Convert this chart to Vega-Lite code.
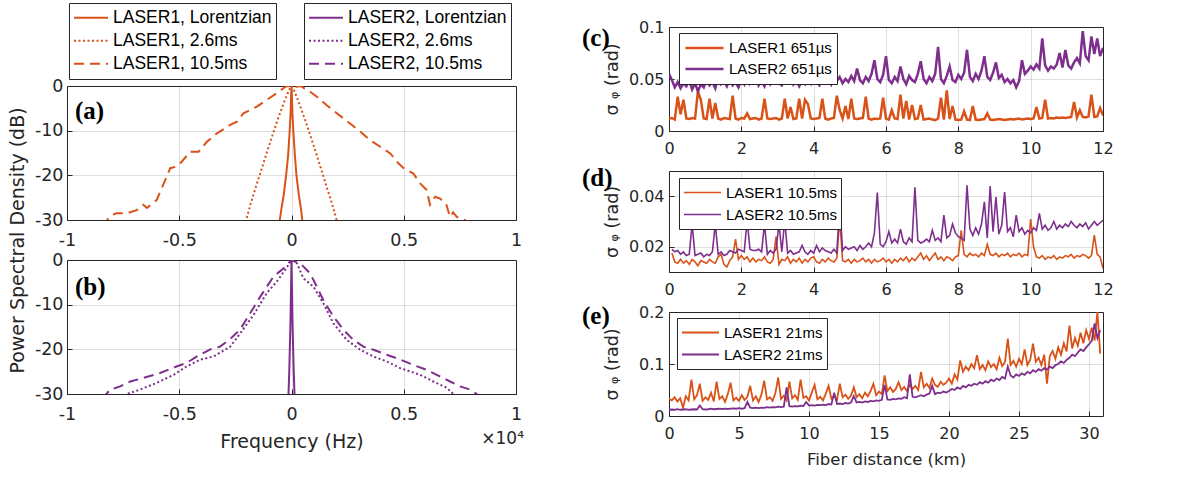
{
"$schema":"https://vega.github.io/schema/vega-lite/v6.json",
"autosize":{"type":"none"},
"padding":{"left":67,"top":27,"right":1112,"bottom":450},
"background":"#ffffff",
"config":{
 "view":{"stroke":"#262626","strokeWidth":1},
 "axis":{"labelFont":"DejaVu Sans","labelColor":"#262626","titleFont":"DejaVu Sans","titleColor":"#262626","titleFontWeight":"normal","domain":false,"tickColor":"#262626","tickSize":-5,"gridColor":"#262626","gridOpacity":0.15,"labelFlush":false,"labelOverlap":false,"format":"~r","titlePadding":10},
 "axisX":{"labelPadding":16},
 "axisY":{"labelPadding":10},
 "legend":{"symbolType":"stroke","labelFont":"Liberation Sans","labelColor":"#000000","labelOffset":4,"labelLimit":400,"rowPadding":1,"strokeColor":"#262626","fillColor":"#ffffff"}
},
"datasets":{
 "a":[
  {"k":"1L","f":-0.055,"v":-31},{"k":"1L","f":-0.045,"v":-27.5},{"k":"1L","f":-0.035,"v":-24.5},{"k":"1L","f":-0.024,"v":-20},{"k":"1L","f":-0.015,"v":-15.5},{"k":"1L","f":-0.008,"v":-10},{"k":"1L","f":-0.004,"v":-6},{"k":"1L","f":-0.0015,"v":-2},{"k":"1L","f":0,"v":0},{"k":"1L","f":0.0015,"v":-2},{"k":"1L","f":0.004,"v":-6},{"k":"1L","f":0.008,"v":-10},{"k":"1L","f":0.015,"v":-15.5},{"k":"1L","f":0.022,"v":-20},{"k":"1L","f":0.033,"v":-24.5},{"k":"1L","f":0.043,"v":-27.8},{"k":"1L","f":0.05,"v":-31},
  {"k":"1s","f":-0.21,"v":-31.5},{"k":"1s","f":-0.18,"v":-26},{"k":"1s","f":-0.15,"v":-21.2},{"k":"1s","f":-0.12,"v":-16.5},{"k":"1s","f":-0.09,"v":-11.8},{"k":"1s","f":-0.06,"v":-7.3},{"k":"1s","f":-0.03,"v":-3.2},{"k":"1s","f":-0.01,"v":-0.8},{"k":"1s","f":0,"v":0},{"k":"1s","f":0.01,"v":-0.8},{"k":"1s","f":0.03,"v":-3.3},{"k":"1s","f":0.06,"v":-7.5},{"k":"1s","f":0.09,"v":-12},{"k":"1s","f":0.12,"v":-16.7},{"k":"1s","f":0.15,"v":-21.5},{"k":"1s","f":0.18,"v":-26.3},{"k":"1s","f":0.21,"v":-31.5},
  {"k":"1d","f":-0.84,"v":-31.5},{"k":"1d","f":-0.822,"v":-30},{"k":"1d","f":-0.8,"v":-28.9},{"k":"1d","f":-0.78,"v":-28.5},{"k":"1d","f":-0.733,"v":-28.5},{"k":"1d","f":-0.69,"v":-27.8},{"k":"1d","f":-0.66,"v":-26.6},{"k":"1d","f":-0.644,"v":-27.3},{"k":"1d","f":-0.6,"v":-25.5},{"k":"1d","f":-0.562,"v":-21},{"k":"1d","f":-0.54,"v":-18.4},{"k":"1d","f":-0.51,"v":-18},{"k":"1d","f":-0.488,"v":-16.9},{"k":"1d","f":-0.451,"v":-14.7},{"k":"1d","f":-0.414,"v":-14.7},{"k":"1d","f":-0.377,"v":-12.5},{"k":"1d","f":-0.332,"v":-10.6},{"k":"1d","f":-0.273,"v":-8.7},{"k":"1d","f":-0.243,"v":-8},{"k":"1d","f":-0.214,"v":-6.1},{"k":"1d","f":-0.154,"v":-4.6},{"k":"1d","f":-0.11,"v":-3.1},{"k":"1d","f":-0.065,"v":-1.6},{"k":"1d","f":-0.036,"v":-0.5},{"k":"1d","f":-0.02,"v":0},{"k":"1d","f":0,"v":-0.1},{"k":"1d","f":0.024,"v":-0.15},{"k":"1d","f":0.04,"v":0},{"k":"1d","f":0.083,"v":-1.3},{"k":"1d","f":0.113,"v":-2.4},{"k":"1d","f":0.157,"v":-4.3},{"k":"1d","f":0.202,"v":-6.1},{"k":"1d","f":0.261,"v":-8.4},{"k":"1d","f":0.306,"v":-10.2},{"k":"1d","f":0.35,"v":-12.1},{"k":"1d","f":0.395,"v":-13.6},{"k":"1d","f":0.44,"v":-15.1},{"k":"1d","f":0.476,"v":-17.3},{"k":"1d","f":0.5,"v":-18.4},{"k":"1d","f":0.543,"v":-19.6},{"k":"1d","f":0.573,"v":-21.8},{"k":"1d","f":0.602,"v":-23.3},{"k":"1d","f":0.617,"v":-26.6},{"k":"1d","f":0.64,"v":-24.8},{"k":"1d","f":0.662,"v":-25.2},{"k":"1d","f":0.69,"v":-26.6},{"k":"1d","f":0.706,"v":-29.3},{"k":"1d","f":0.72,"v":-28.3},{"k":"1d","f":0.736,"v":-29.3},{"k":"1d","f":0.773,"v":-30},{"k":"1d","f":0.79,"v":-31.5}
 ],
 "b":[
  {"k":"2L","f":-0.014,"v":-31},{"k":"2L","f":-0.01,"v":-25},{"k":"2L","f":-0.005,"v":-15},{"k":"2L","f":-0.002,"v":-6},{"k":"2L","f":0,"v":0},{"k":"2L","f":0.002,"v":-6},{"k":"2L","f":0.005,"v":-15},{"k":"2L","f":0.01,"v":-25},{"k":"2L","f":0.014,"v":-31},
  {"k":"2s","f":-0.76,"v":-31.2},{"k":"2s","f":-0.733,"v":-30},{"k":"2s","f":-0.674,"v":-29},{"k":"2s","f":-0.6,"v":-27.5},{"k":"2s","f":-0.525,"v":-25.7},{"k":"2s","f":-0.466,"v":-23.8},{"k":"2s","f":-0.407,"v":-22.3},{"k":"2s","f":-0.347,"v":-21.6},{"k":"2s","f":-0.273,"v":-19.4},{"k":"2s","f":-0.228,"v":-16.4},{"k":"2s","f":-0.169,"v":-12.3},{"k":"2s","f":-0.11,"v":-7.4},{"k":"2s","f":-0.065,"v":-4.8},{"k":"2s","f":-0.028,"v":-2.2},{"k":"2s","f":0,"v":0},{"k":"2s","f":0.024,"v":-0.7},{"k":"2s","f":0.053,"v":-4.1},{"k":"2s","f":0.098,"v":-6},{"k":"2s","f":0.142,"v":-9.7},{"k":"2s","f":0.187,"v":-14.2},{"k":"2s","f":0.246,"v":-17.9},{"k":"2s","f":0.306,"v":-20.1},{"k":"2s","f":0.365,"v":-21.6},{"k":"2s","f":0.424,"v":-22.7},{"k":"2s","f":0.484,"v":-24.2},{"k":"2s","f":0.573,"v":-25.7},{"k":"2s","f":0.632,"v":-27.2},{"k":"2s","f":0.691,"v":-28.6},{"k":"2s","f":0.721,"v":-30},{"k":"2s","f":0.74,"v":-31.2},
  {"k":"2d","f":-0.84,"v":-31.2},{"k":"2d","f":-0.825,"v":-30},{"k":"2d","f":-0.807,"v":-29},{"k":"2d","f":-0.763,"v":-28.3},{"k":"2d","f":-0.718,"v":-27.2},{"k":"2d","f":-0.659,"v":-26.4},{"k":"2d","f":-0.585,"v":-25.3},{"k":"2d","f":-0.51,"v":-23.8},{"k":"2d","f":-0.466,"v":-23},{"k":"2d","f":-0.421,"v":-21.6},{"k":"2d","f":-0.362,"v":-20},{"k":"2d","f":-0.318,"v":-19.4},{"k":"2d","f":-0.273,"v":-17.7},{"k":"2d","f":-0.228,"v":-15.5},{"k":"2d","f":-0.184,"v":-11.9},{"k":"2d","f":-0.139,"v":-8.2},{"k":"2d","f":-0.08,"v":-3.7},{"k":"2d","f":-0.036,"v":-1.9},{"k":"2d","f":-0.013,"v":-0.7},{"k":"2d","f":0,"v":0},{"k":"2d","f":0.031,"v":-0.7},{"k":"2d","f":0.046,"v":-1.1},{"k":"2d","f":0.083,"v":-3},{"k":"2d","f":0.113,"v":-6},{"k":"2d","f":0.142,"v":-9},{"k":"2d","f":0.187,"v":-12.7},{"k":"2d","f":0.231,"v":-15.6},{"k":"2d","f":0.276,"v":-17.9},{"k":"2d","f":0.32,"v":-19.4},{"k":"2d","f":0.365,"v":-20.1},{"k":"2d","f":0.424,"v":-21.2},{"k":"2d","f":0.484,"v":-22.3},{"k":"2d","f":0.543,"v":-23.5},{"k":"2d","f":0.602,"v":-24.6},{"k":"2d","f":0.647,"v":-25.7},{"k":"2d","f":0.706,"v":-27.2},{"k":"2d","f":0.751,"v":-28.3},{"k":"2d","f":0.795,"v":-29},{"k":"2d","f":0.825,"v":-30},{"k":"2d","f":0.845,"v":-31.2}
 ],
 "c":[
  {"x":0,"a":0.012,"b":0.055},{"x":0.08,"a":0.0125,"b":0.049},{"x":0.16,"a":0.011,"b":0.042},{"x":0.24,"a":0.033,"b":0.047},{"x":0.32,"a":0.016,"b":0.041},{"x":0.4,"a":0.03,"b":0.046},{"x":0.48,"a":0.012,"b":0.043},{"x":0.56,"a":0.0115,"b":0.049},{"x":0.64,"a":0.0125,"b":0.04},{"x":0.72,"a":0.012,"b":0.046},
  {"x":0.8,"a":0.038,"b":0.038},{"x":0.88,"a":0.03,"b":0.045},{"x":0.96,"a":0.012,"b":0.042},{"x":1.04,"a":0.0115,"b":0.05},{"x":1.12,"a":0.031,"b":0.044},{"x":1.2,"a":0.012,"b":0.047},{"x":1.28,"a":0.027,"b":0.041},{"x":1.36,"a":0.012,"b":0.052},{"x":1.44,"a":0.011,"b":0.045},{"x":1.52,"a":0.0125,"b":0.048},
  {"x":1.6,"a":0.012,"b":0.043},{"x":1.68,"a":0.0115,"b":0.05},{"x":1.76,"a":0.034,"b":0.044},{"x":1.84,"a":0.012,"b":0.047},{"x":1.92,"a":0.011,"b":0.042},{"x":2,"a":0.0125,"b":0.049},{"x":2.08,"a":0.012,"b":0.045},{"x":2.16,"a":0.017,"b":0.064},{"x":2.24,"a":0.0115,"b":0.046},{"x":2.32,"a":0.012,"b":0.05},
  {"x":2.4,"a":0.0125,"b":0.06},{"x":2.48,"a":0.011,"b":0.044},{"x":2.56,"a":0.012,"b":0.048},{"x":2.64,"a":0.031,"b":0.043},{"x":2.72,"a":0.012,"b":0.051},{"x":2.8,"a":0.0115,"b":0.045},{"x":2.88,"a":0.012,"b":0.049},{"x":2.96,"a":0.0125,"b":0.062},{"x":3.04,"a":0.011,"b":0.046},{"x":3.12,"a":0.012,"b":0.044},
  {"x":3.2,"a":0.031,"b":0.05},{"x":3.28,"a":0.012,"b":0.047},{"x":3.36,"a":0.023,"b":0.057},{"x":3.44,"a":0.0115,"b":0.045},{"x":3.52,"a":0.012,"b":0.049},{"x":3.6,"a":0.031,"b":0.043},{"x":3.68,"a":0.012,"b":0.048},{"x":3.76,"a":0.03,"b":0.045},{"x":3.84,"a":0.026,"b":0.051},{"x":3.92,"a":0.012,"b":0.046},
  {"x":4,"a":0.0115,"b":0.06},{"x":4.08,"a":0.012,"b":0.047},{"x":4.16,"a":0.0125,"b":0.044},{"x":4.24,"a":0.031,"b":0.05},{"x":4.32,"a":0.012,"b":0.046},{"x":4.4,"a":0.011,"b":0.049},{"x":4.48,"a":0.012,"b":0.045},{"x":4.56,"a":0.0125,"b":0.061},{"x":4.64,"a":0.034,"b":0.048},{"x":4.72,"a":0.02,"b":0.052},
  {"x":4.8,"a":0.012,"b":0.046},{"x":4.88,"a":0.024,"b":0.05},{"x":4.96,"a":0.0115,"b":0.047},{"x":5.04,"a":0.031,"b":0.053},{"x":5.12,"a":0.012,"b":0.048},{"x":5.2,"a":0.0115,"b":0.06},{"x":5.28,"a":0.012,"b":0.049},{"x":5.36,"a":0.0125,"b":0.046},{"x":5.44,"a":0.033,"b":0.052},{"x":5.52,"a":0.012,"b":0.048},
  {"x":5.6,"a":0.011,"b":0.055},{"x":5.68,"a":0.012,"b":0.068},{"x":5.76,"a":0.0115,"b":0.05},{"x":5.84,"a":0.012,"b":0.047},{"x":5.92,"a":0.032,"b":0.054},{"x":6,"a":0.012,"b":0.072},{"x":6.08,"a":0.011,"b":0.049},{"x":6.16,"a":0.02,"b":0.046},{"x":6.24,"a":0.012,"b":0.052},{"x":6.32,"a":0.0115,"b":0.048},
  {"x":6.4,"a":0.035,"b":0.062},{"x":6.48,"a":0.012,"b":0.05},{"x":6.56,"a":0.029,"b":0.045},{"x":6.64,"a":0.011,"b":0.053},{"x":6.72,"a":0.025,"b":0.049},{"x":6.8,"a":0.0115,"b":0.047},{"x":6.88,"a":0.012,"b":0.055},{"x":6.96,"a":0.025,"b":0.067},{"x":7.04,"a":0.011,"b":0.05},{"x":7.12,"a":0.0115,"b":0.046},
  {"x":7.2,"a":0.012,"b":0.052},{"x":7.28,"a":0.011,"b":0.048},{"x":7.36,"a":0.0105,"b":0.055},{"x":7.44,"a":0.012,"b":0.081},{"x":7.52,"a":0.032,"b":0.05},{"x":7.6,"a":0.011,"b":0.046},{"x":7.68,"a":0.039,"b":0.053},{"x":7.76,"a":0.0115,"b":0.062},{"x":7.84,"a":0.024,"b":0.049},{"x":7.92,"a":0.011,"b":0.047},
  {"x":8,"a":0.0105,"b":0.054},{"x":8.08,"a":0.011,"b":0.05},{"x":8.16,"a":0.019,"b":0.056},{"x":8.24,"a":0.011,"b":0.078},{"x":8.32,"a":0.0105,"b":0.052},{"x":8.4,"a":0.024,"b":0.048},{"x":8.48,"a":0.011,"b":0.055},{"x":8.56,"a":0.0105,"b":0.05},{"x":8.64,"a":0.011,"b":0.058},{"x":8.72,"a":0.0115,"b":0.072},
  {"x":8.8,"a":0.017,"b":0.052},{"x":8.88,"a":0.011,"b":0.049},{"x":8.96,"a":0.0105,"b":0.056},{"x":9.04,"a":0.011,"b":0.066},{"x":9.12,"a":0.0115,"b":0.051},{"x":9.2,"a":0.011,"b":0.054},{"x":9.28,"a":0.0105,"b":0.047},{"x":9.36,"a":0.011,"b":0.05},{"x":9.44,"a":0.0115,"b":0.046},{"x":9.52,"a":0.011,"b":0.049},
  {"x":9.6,"a":0.0115,"b":0.042},{"x":9.68,"a":0.012,"b":0.048},{"x":9.76,"a":0.011,"b":0.068},{"x":9.84,"a":0.0115,"b":0.055},{"x":9.92,"a":0.012,"b":0.058},{"x":10,"a":0.0115,"b":0.062},{"x":10.08,"a":0.012,"b":0.059},{"x":10.16,"a":0.023,"b":0.064},{"x":10.24,"a":0.012,"b":0.06},{"x":10.32,"a":0.0125,"b":0.089},
  {"x":10.4,"a":0.03,"b":0.063},{"x":10.48,"a":0.012,"b":0.058},{"x":10.56,"a":0.0125,"b":0.062},{"x":10.64,"a":0.012,"b":0.06},{"x":10.72,"a":0.013,"b":0.064},{"x":10.8,"a":0.0125,"b":0.075},{"x":10.88,"a":0.013,"b":0.061},{"x":10.96,"a":0.0125,"b":0.078},{"x":11.04,"a":0.013,"b":0.063},{"x":11.12,"a":0.0135,"b":0.06},
  {"x":11.2,"a":0.028,"b":0.066},{"x":11.28,"a":0.013,"b":0.07},{"x":11.36,"a":0.02,"b":0.065},{"x":11.44,"a":0.0135,"b":0.096},{"x":11.52,"a":0.013,"b":0.072},{"x":11.6,"a":0.014,"b":0.068},{"x":11.68,"a":0.035,"b":0.091},{"x":11.76,"a":0.0135,"b":0.074},{"x":11.84,"a":0.014,"b":0.089},{"x":11.92,"a":0.022,"b":0.072},
  {"x":12,"a":0.015,"b":0.08}
 ],
 "d":[
  {"x":0.08,"a":0.0175,"b":0.019},{"x":0.16,"a":0.014,"b":0.018},{"x":0.24,"a":0.0135,"b":0.0185},{"x":0.32,"a":0.015,"b":0.017},{"x":0.4,"a":0.0135,"b":0.018},{"x":0.48,"a":0.0145,"b":0.0165},{"x":0.56,"a":0.013,"b":0.017},{"x":0.64,"a":0.015,"b":0.029},{"x":0.72,"a":0.014,"b":0.0165},{"x":0.8,"a":0.0125,"b":0.017},
  {"x":0.88,"a":0.0145,"b":0.0175},{"x":0.96,"a":0.014,"b":0.016},{"x":1.04,"a":0.0135,"b":0.017},{"x":1.12,"a":0.015,"b":0.0165},{"x":1.2,"a":0.014,"b":0.018},{"x":1.28,"a":0.0135,"b":0.029},{"x":1.36,"a":0.016,"b":0.017},{"x":1.44,"a":0.017,"b":0.018},{"x":1.52,"a":0.013,"b":0.0165},{"x":1.6,"a":0.012,"b":0.017},
  {"x":1.68,"a":0.0145,"b":0.0185},{"x":1.76,"a":0.016,"b":0.018},{"x":1.84,"a":0.023,"b":0.0175},{"x":1.92,"a":0.015,"b":0.019},{"x":2,"a":0.0165,"b":0.0185},{"x":2.08,"a":0.015,"b":0.018},{"x":2.16,"a":0.016,"b":0.0305},{"x":2.24,"a":0.014,"b":0.019},{"x":2.32,"a":0.0155,"b":0.0185},{"x":2.4,"a":0.014,"b":0.0185},
  {"x":2.48,"a":0.015,"b":0.019},{"x":2.56,"a":0.0145,"b":0.018},{"x":2.64,"a":0.016,"b":0.029},{"x":2.72,"a":0.014,"b":0.017},{"x":2.8,"a":0.0135,"b":0.0185},{"x":2.88,"a":0.015,"b":0.0175},{"x":2.96,"a":0.024,"b":0.019},{"x":3.04,"a":0.013,"b":0.029},{"x":3.12,"a":0.015,"b":0.018},{"x":3.2,"a":0.0145,"b":0.0305},
  {"x":3.28,"a":0.016,"b":0.0175},{"x":3.36,"a":0.0135,"b":0.0185},{"x":3.44,"a":0.015,"b":0.017},{"x":3.52,"a":0.014,"b":0.0175},{"x":3.6,"a":0.0155,"b":0.018},{"x":3.68,"a":0.0135,"b":0.0205},{"x":3.76,"a":0.015,"b":0.018},{"x":3.84,"a":0.014,"b":0.017},{"x":3.92,"a":0.0155,"b":0.0185},{"x":4,"a":0.016,"b":0.0175},
  {"x":4.08,"a":0.014,"b":0.0205},{"x":4.16,"a":0.0135,"b":0.018},{"x":4.24,"a":0.015,"b":0.0195},{"x":4.32,"a":0.014,"b":0.0185},{"x":4.4,"a":0.0155,"b":0.018},{"x":4.48,"a":0.0145,"b":0.0175},{"x":4.56,"a":0.014,"b":0.019},{"x":4.64,"a":0.0155,"b":0.0175},{"x":4.72,"a":0.031,"b":0.037},{"x":4.8,"a":0.0145,"b":0.0185},
  {"x":4.88,"a":0.014,"b":0.02},{"x":4.96,"a":0.015,"b":0.019},{"x":5.04,"a":0.0135,"b":0.0195},{"x":5.12,"a":0.015,"b":0.02},{"x":5.2,"a":0.014,"b":0.0185},{"x":5.28,"a":0.0145,"b":0.0205},{"x":5.36,"a":0.0155,"b":0.019},{"x":5.44,"a":0.014,"b":0.02},{"x":5.52,"a":0.015,"b":0.0215},{"x":5.6,"a":0.0135,"b":0.02},
  {"x":5.68,"a":0.015,"b":0.0255},{"x":5.76,"a":0.014,"b":0.0415},{"x":5.84,"a":0.0145,"b":0.021},{"x":5.92,"a":0.0155,"b":0.02},{"x":6,"a":0.014,"b":0.022},{"x":6.08,"a":0.015,"b":0.026},{"x":6.16,"a":0.0135,"b":0.0215},{"x":6.24,"a":0.015,"b":0.023},{"x":6.32,"a":0.014,"b":0.0215},{"x":6.4,"a":0.0155,"b":0.027},
  {"x":6.48,"a":0.0145,"b":0.022},{"x":6.56,"a":0.016,"b":0.021},{"x":6.64,"a":0.014,"b":0.0235},{"x":6.72,"a":0.0155,"b":0.022},{"x":6.8,"a":0.0145,"b":0.0435},{"x":6.88,"a":0.016,"b":0.0225},{"x":6.96,"a":0.0175,"b":0.0215},{"x":7.04,"a":0.015,"b":0.022},{"x":7.12,"a":0.0165,"b":0.023},{"x":7.2,"a":0.0145,"b":0.022},
  {"x":7.28,"a":0.016,"b":0.0265},{"x":7.36,"a":0.0175,"b":0.0225},{"x":7.44,"a":0.015,"b":0.0235},{"x":7.52,"a":0.016,"b":0.022},{"x":7.6,"a":0.0145,"b":0.0325},{"x":7.68,"a":0.016,"b":0.0235},{"x":7.76,"a":0.0155,"b":0.0245},{"x":7.84,"a":0.0145,"b":0.029},{"x":7.92,"a":0.016,"b":0.0255},{"x":8,"a":0.0165,"b":0.024},
  {"x":8.08,"a":0.0265,"b":0.0235},{"x":8.16,"a":0.017,"b":0.0225},{"x":8.24,"a":0.016,"b":0.0443},{"x":8.32,"a":0.0175,"b":0.027},{"x":8.4,"a":0.0165,"b":0.0245},{"x":8.48,"a":0.017,"b":0.0275},{"x":8.56,"a":0.016,"b":0.025},{"x":8.64,"a":0.0175,"b":0.029},{"x":8.72,"a":0.0165,"b":0.0378},{"x":8.8,"a":0.021,"b":0.0235},
  {"x":8.88,"a":0.017,"b":0.044},{"x":8.96,"a":0.0165,"b":0.026},{"x":9.04,"a":0.0175,"b":0.0397},{"x":9.12,"a":0.016,"b":0.025},{"x":9.2,"a":0.017,"b":0.0285},{"x":9.28,"a":0.0165,"b":0.0417},{"x":9.36,"a":0.0175,"b":0.026},{"x":9.44,"a":0.016,"b":0.0275},{"x":9.52,"a":0.017,"b":0.024},{"x":9.6,"a":0.0165,"b":0.0325},
  {"x":9.68,"a":0.0175,"b":0.026},{"x":9.76,"a":0.016,"b":0.0275},{"x":9.84,"a":0.017,"b":0.025},{"x":9.92,"a":0.0165,"b":0.0265},{"x":10,"a":0.031,"b":0.0255},{"x":10.08,"a":0.02,"b":0.0275},{"x":10.16,"a":0.016,"b":0.0265},{"x":10.24,"a":0.0155,"b":0.0332},{"x":10.32,"a":0.0165,"b":0.027},{"x":10.4,"a":0.015,"b":0.0285},
  {"x":10.48,"a":0.016,"b":0.0265},{"x":10.56,"a":0.0155,"b":0.0275},{"x":10.64,"a":0.0165,"b":0.03},{"x":10.72,"a":0.015,"b":0.027},{"x":10.8,"a":0.016,"b":0.0285},{"x":10.88,"a":0.0155,"b":0.0275},{"x":10.96,"a":0.0165,"b":0.029},{"x":11.04,"a":0.016,"b":0.028},{"x":11.12,"a":0.017,"b":0.03},{"x":11.2,"a":0.0155,"b":0.0285},
  {"x":11.28,"a":0.0165,"b":0.0275},{"x":11.36,"a":0.016,"b":0.029},{"x":11.44,"a":0.017,"b":0.028},{"x":11.52,"a":0.0165,"b":0.0295},{"x":11.6,"a":0.0155,"b":0.027},{"x":11.68,"a":0.0165,"b":0.0285},{"x":11.76,"a":0.0246,"b":0.03},{"x":11.84,"a":0.017,"b":0.0285},{"x":11.92,"a":0.016,"b":0.0295},{"x":12,"a":0.0115,"b":0.0305}
 ],
 "e":[
  {"x":0,"a":0.033,"b":0.012},{"x":0.2,"a":0.03,"b":0.0125},{"x":0.4,"a":0.036,"b":0.012},{"x":0.6,"a":0.028,"b":0.013},{"x":0.8,"a":0.034,"b":0.012},{"x":1,"a":0.016,"b":0.0125},{"x":1.2,"a":0.038,"b":0.013},{"x":1.4,"a":0.03,"b":0.012},{"x":1.6,"a":0.07,"b":0.0125},{"x":1.8,"a":0.032,"b":0.013},
  {"x":2,"a":0.04,"b":0.0125},{"x":2.2,"a":0.062,"b":0.02},{"x":2.4,"a":0.029,"b":0.013},{"x":2.6,"a":0.036,"b":0.0125},{"x":2.8,"a":0.031,"b":0.013},{"x":3,"a":0.045,"b":0.014},{"x":3.2,"a":0.028,"b":0.013},{"x":3.4,"a":0.066,"b":0.0135},{"x":3.6,"a":0.033,"b":0.014},{"x":3.8,"a":0.038,"b":0.0135},
  {"x":4,"a":0.027,"b":0.014},{"x":4.2,"a":0.042,"b":0.0135},{"x":4.4,"a":0.064,"b":0.014},{"x":4.6,"a":0.03,"b":0.0145},{"x":4.8,"a":0.035,"b":0.014},{"x":5,"a":0.029,"b":0.015},{"x":5.2,"a":0.04,"b":0.014},{"x":5.4,"a":0.031,"b":0.015},{"x":5.6,"a":0.037,"b":0.027},{"x":5.8,"a":0.058,"b":0.016},
  {"x":6,"a":0.03,"b":0.015},{"x":6.2,"a":0.038,"b":0.016},{"x":6.4,"a":0.027,"b":0.015},{"x":6.6,"a":0.041,"b":0.016},{"x":6.8,"a":0.068,"b":0.0155},{"x":7,"a":0.032,"b":0.017},{"x":7.2,"a":0.036,"b":0.016},{"x":7.4,"a":0.029,"b":0.017},{"x":7.6,"a":0.044,"b":0.0165},{"x":7.8,"a":0.074,"b":0.018},
  {"x":8,"a":0.033,"b":0.017},{"x":8.2,"a":0.039,"b":0.018},{"x":8.4,"a":0.03,"b":0.055},{"x":8.6,"a":0.066,"b":0.019},{"x":8.8,"a":0.034,"b":0.018},{"x":9,"a":0.04,"b":0.019},{"x":9.2,"a":0.031,"b":0.0185},{"x":9.4,"a":0.07,"b":0.02},{"x":9.6,"a":0.035,"b":0.019},{"x":9.8,"a":0.038,"b":0.027},
  {"x":10,"a":0.03,"b":0.02},{"x":10.2,"a":0.045,"b":0.021},{"x":10.4,"a":0.06,"b":0.02},{"x":10.6,"a":0.032,"b":0.0215},{"x":10.8,"a":0.037,"b":0.021},{"x":11,"a":0.03,"b":0.022},{"x":11.2,"a":0.043,"b":0.021},{"x":11.4,"a":0.058,"b":0.023},{"x":11.6,"a":0.033,"b":0.022},{"x":11.8,"a":0.038,"b":0.045},
  {"x":12,"a":0.031,"b":0.023},{"x":12.2,"a":0.062,"b":0.024},{"x":12.4,"a":0.036,"b":0.023},{"x":12.6,"a":0.041,"b":0.025},{"x":12.8,"a":0.033,"b":0.024},{"x":13,"a":0.039,"b":0.026},{"x":13.2,"a":0.055,"b":0.038},{"x":13.4,"a":0.036,"b":0.026},{"x":13.6,"a":0.042,"b":0.027},{"x":13.8,"a":0.034,"b":0.026},
  {"x":14,"a":0.045,"b":0.028},{"x":14.2,"a":0.038,"b":0.027},{"x":14.4,"a":0.048,"b":0.029},{"x":14.6,"a":0.062,"b":0.028},{"x":14.8,"a":0.04,"b":0.03},{"x":15,"a":0.047,"b":0.029},{"x":15.2,"a":0.042,"b":0.031},{"x":15.4,"a":0.078,"b":0.06},{"x":15.6,"a":0.048,"b":0.032},{"x":15.8,"a":0.055,"b":0.031},
  {"x":16,"a":0.046,"b":0.033},{"x":16.2,"a":0.052,"b":0.032},{"x":16.4,"a":0.065,"b":0.034},{"x":16.6,"a":0.05,"b":0.033},{"x":16.8,"a":0.056,"b":0.036},{"x":17,"a":0.048,"b":0.034},{"x":17.2,"a":0.06,"b":0.08},{"x":17.4,"a":0.052,"b":0.037},{"x":17.6,"a":0.058,"b":0.036},{"x":17.8,"a":0.05,"b":0.038},
  {"x":18,"a":0.085,"b":0.04},{"x":18.2,"a":0.055,"b":0.038},{"x":18.4,"a":0.062,"b":0.041},{"x":18.6,"a":0.054,"b":0.043},{"x":18.8,"a":0.072,"b":0.058},{"x":19,"a":0.06,"b":0.042},{"x":19.2,"a":0.056,"b":0.045},{"x":19.4,"a":0.066,"b":0.044},{"x":19.6,"a":0.06,"b":0.047},{"x":19.8,"a":0.064,"b":0.045},
  {"x":20,"a":0.072,"b":0.048},{"x":20.2,"a":0.062,"b":0.052},{"x":20.4,"a":0.08,"b":0.05},{"x":20.6,"a":0.07,"b":0.055},{"x":20.8,"a":0.107,"b":0.052},{"x":21,"a":0.085,"b":0.058},{"x":21.2,"a":0.095,"b":0.055},{"x":21.4,"a":0.088,"b":0.06},{"x":21.6,"a":0.1,"b":0.058},{"x":21.8,"a":0.092,"b":0.062},
  {"x":22,"a":0.117,"b":0.06},{"x":22.2,"a":0.09,"b":0.065},{"x":22.4,"a":0.098,"b":0.062},{"x":22.6,"a":0.088,"b":0.067},{"x":22.8,"a":0.105,"b":0.064},{"x":23,"a":0.094,"b":0.07},{"x":23.2,"a":0.1,"b":0.067},{"x":23.4,"a":0.09,"b":0.072},{"x":23.6,"a":0.112,"b":0.069},{"x":23.8,"a":0.096,"b":0.075},
  {"x":24,"a":0.104,"b":0.072},{"x":24.2,"a":0.149,"b":0.095},{"x":24.4,"a":0.098,"b":0.078},{"x":24.6,"a":0.106,"b":0.074},{"x":24.8,"a":0.095,"b":0.08},{"x":25,"a":0.11,"b":0.077},{"x":25.2,"a":0.1,"b":0.082},{"x":25.4,"a":0.128,"b":0.079},{"x":25.6,"a":0.098,"b":0.085},{"x":25.8,"a":0.108,"b":0.082},
  {"x":26,"a":0.139,"b":0.088},{"x":26.2,"a":0.104,"b":0.085},{"x":26.4,"a":0.112,"b":0.09},{"x":26.6,"a":0.098,"b":0.087},{"x":26.8,"a":0.118,"b":0.092},{"x":27,"a":0.062,"b":0.089},{"x":27.2,"a":0.115,"b":0.095},{"x":27.4,"a":0.125,"b":0.092},{"x":27.6,"a":0.11,"b":0.098},{"x":27.8,"a":0.132,"b":0.1},
  {"x":28,"a":0.118,"b":0.105},{"x":28.2,"a":0.14,"b":0.102},{"x":28.4,"a":0.124,"b":0.108},{"x":28.6,"a":0.174,"b":0.112},{"x":28.8,"a":0.13,"b":0.118},{"x":29,"a":0.15,"b":0.115},{"x":29.2,"a":0.135,"b":0.122},{"x":29.4,"a":0.16,"b":0.128},{"x":29.6,"a":0.14,"b":0.125},{"x":29.8,"a":0.165,"b":0.132},
  {"x":30,"a":0.148,"b":0.138},{"x":30.2,"a":0.17,"b":0.145},{"x":30.4,"a":0.145,"b":0.178},{"x":30.6,"a":0.2,"b":0.15},{"x":30.8,"a":0.12,"b":0.165}
 ]
},
"bounds":"flush",
"spacing":602,
"resolve":{"scale":{"color":"independent","strokeDash":"independent"},"legend":{"color":"independent","strokeDash":"independent"}},
"hconcat":[
 {"bounds":"flush","spacing":40,
  "resolve":{"scale":{"color":"independent","strokeDash":"independent"},"legend":{"color":"independent","strokeDash":"independent"}},
  "vconcat":[
   {"width":449,"height":19,"data":{"values":[]},"mark":"point","view":{"stroke":null}},
   {"width":449,"height":134,
    "layer":[
     {"data":{"name":"a"},"mark":{"type":"line","clip":true,"strokeWidth":2},
      "encoding":{
       "x":{"field":"f","type":"quantitative","title":null,"scale":{"domain":[-1,1],"nice":false},"axis":{"values":[-1,-0.5,0,0.5,1],"labelFontSize":17.5,"labelExpr":"replace(datum.label,'−','-')"}},
       "y":{"field":"v","type":"quantitative","scale":{"domain":[-30,0],"nice":false},"axis":{"values":[-30,-20,-10,0],"labelFontSize":17.5,"labelPadding":9,"labelExpr":"replace(datum.label,'−','-')","title":"Power Spectral Density (dB)","titleFontSize":19,"titleX":-40,"titleY":154}},
       "color":{"field":"k","type":"nominal","title":null,"scale":{"domain":["1L","1s","1d"],"range":["#D95319","#D95319","#D95319"]},
        "legend":{"orient":"none","legendX":2,"legendY":-83,"symbolSize":1156,"symbolStrokeWidth":2,"labelFontSize":17.5,"clipHeight":21.5,"padding":4,"labelExpr":"datum.label=='1L'?'LASER1, Lorentzian':datum.label=='1s'?'LASER1, 2.6ms':'LASER1, 10.5ms'"}},
       "strokeDash":{"field":"k","type":"nominal","title":null,"scale":{"domain":["1L","1s","1d"],"range":[[1,0],[2,2.5],[10,6]]},
        "legend":{"orient":"none","legendX":2,"legendY":-83,"symbolSize":1156,"symbolStrokeWidth":2,"labelFontSize":17.5,"clipHeight":21.5,"padding":4,"labelExpr":"datum.label=='1L'?'LASER1, Lorentzian':datum.label=='1s'?'LASER1, 2.6ms':'LASER1, 10.5ms'"}}
      }},
     {"data":{"values":[{}]},"mark":{"type":"text","font":"Liberation Serif","fontWeight":"bold","fontSize":25,"color":"#000000","align":"left","baseline":"middle","dx":8,"dy":25},
      "encoding":{"x":{"datum":-1,"type":"quantitative"},"y":{"datum":0,"type":"quantitative"},"text":{"value":"(a)"}}}
    ]},
   {"width":449,"height":134,
    "layer":[
     {"data":{"name":"b"},"mark":{"type":"line","clip":true,"strokeWidth":2},
      "encoding":{
       "x":{"field":"f","type":"quantitative","scale":{"domain":[-1,1],"nice":false},"axis":{"values":[-1,-0.5,0,0.5,1],"labelFontSize":17.5,"labelExpr":"replace(datum.label,'−','-')","title":"Frequency (Hz)","titleFontSize":19}},
       "y":{"field":"v","type":"quantitative","title":null,"scale":{"domain":[-30,0],"nice":false},"axis":{"values":[-30,-20,-10,0],"labelFontSize":17.5,"labelPadding":9,"labelExpr":"replace(datum.label,'−','-')"}},
       "color":{"field":"k","type":"nominal","title":null,"scale":{"domain":["2L","2s","2d"],"range":["#7E2F8E","#7E2F8E","#7E2F8E"]},
        "legend":{"orient":"none","legendX":237,"legendY":-257,"symbolSize":1156,"symbolStrokeWidth":2,"labelFontSize":17.5,"clipHeight":21.5,"padding":4,"labelExpr":"datum.label=='2L'?'LASER2, Lorentzian':datum.label=='2s'?'LASER2, 2.6ms':'LASER2, 10.5ms'"}},
       "strokeDash":{"field":"k","type":"nominal","title":null,"scale":{"domain":["2L","2s","2d"],"range":[[1,0],[2,2.5],[10,6]]},
        "legend":{"orient":"none","legendX":237,"legendY":-257,"symbolSize":1156,"symbolStrokeWidth":2,"labelFontSize":17.5,"clipHeight":21.5,"padding":4,"labelExpr":"datum.label=='2L'?'LASER2, Lorentzian':datum.label=='2s'?'LASER2, 2.6ms':'LASER2, 10.5ms'"}}
      }},
     {"data":{"values":[{}]},"mark":{"type":"text","font":"Liberation Serif","fontWeight":"bold","fontSize":25,"color":"#000000","align":"left","baseline":"middle","dx":8,"dy":27},
      "encoding":{"x":{"datum":-1,"type":"quantitative"},"y":{"datum":0,"type":"quantitative"},"text":{"value":"(b)"}}},
     {"data":{"values":[{}]},"mark":{"type":"text","font":"DejaVu Sans","fontSize":17,"color":"#262626","align":"right","baseline":"alphabetic","dx":8,"dy":50},
      "encoding":{"x":{"datum":1,"type":"quantitative"},"y":{"datum":-30,"type":"quantitative"},"text":{"value":"×10⁴"}}}
    ]}
  ]},
 {"bounds":"flush","spacing":40,
  "resolve":{"scale":{"color":"independent","strokeDash":"independent"},"legend":{"color":"independent","strokeDash":"independent"}},
  "vconcat":[
   {"width":434,"height":104,
    "layer":[
     {"data":{"name":"c"},"transform":[{"fold":["a","b"],"as":["s","y"]}],"mark":{"type":"line","clip":true,"strokeWidth":2.5},
      "encoding":{
       "x":{"field":"x","type":"quantitative","title":null,"scale":{"domain":[0,12],"nice":false},"axis":{"values":[0,2,4,6,8,10,12],"labelFontSize":16,"labelPadding":14}},
       "y":{"field":"y","type":"quantitative","scale":{"domain":[0,0.1],"nice":false},"axis":{"values":[0,0.05,0.1],"labelFontSize":16,"title":"σ ᵩ (rad)","titleFontSize":17.5,"titleX":-48}},
       "color":{"field":"s","type":"nominal","title":null,"scale":{"domain":["a","b"],"range":["#D95319","#7E2F8E"]},
        "legend":{"orient":"none","legendX":10,"legendY":6,"symbolSize":1444,"symbolStrokeWidth":2.5,"labelFontSize":15,"clipHeight":20,"padding":5,"labelExpr":"datum.label=='a'?'LASER1 651µs':'LASER2 651µs'"}}
      }},
     {"data":{"values":[{}]},"mark":{"type":"text","font":"Liberation Serif","fontWeight":"bold","fontSize":25,"color":"#000000","align":"left","baseline":"middle","dx":-87,"dy":11},
      "encoding":{"x":{"datum":0,"type":"quantitative"},"y":{"datum":0.1,"type":"quantitative"},"text":{"value":"(c)"}}}
    ]},
   {"width":434,"height":101,
    "layer":[
     {"data":{"name":"d"},"transform":[{"fold":["a","b"],"as":["s","y"]}],"mark":{"type":"line","clip":true,"strokeWidth":1.6},
      "encoding":{
       "x":{"field":"x","type":"quantitative","title":null,"scale":{"domain":[0,12],"nice":false},"axis":{"values":[0,2,4,6,8,10,12],"labelFontSize":16,"labelPadding":14}},
       "y":{"field":"y","type":"quantitative","scale":{"domain":[0.01,0.05],"nice":false},"axis":{"values":[0.02,0.04],"labelFontSize":16,"title":"σ ᵩ (rad)","titleFontSize":17.5,"titleX":-48}},
       "color":{"field":"s","type":"nominal","title":null,"scale":{"domain":["a","b"],"range":["#D95319","#7E2F8E"]},
        "legend":{"orient":"none","legendX":10,"legendY":7,"symbolSize":1369,"symbolStrokeWidth":1.6,"labelFontSize":15,"clipHeight":21,"padding":4,"labelExpr":"datum.label=='a'?'LASER1 10.5ms':'LASER2 10.5ms'"}}
      }},
     {"data":{"values":[{}]},"mark":{"type":"text","font":"Liberation Serif","fontWeight":"bold","fontSize":25,"color":"#000000","align":"left","baseline":"middle","dx":-87,"dy":7},
      "encoding":{"x":{"datum":0,"type":"quantitative"},"y":{"datum":0.05,"type":"quantitative"},"text":{"value":"(d)"}}}
    ]},
   {"width":434,"height":104,
    "layer":[
     {"data":{"name":"e"},"transform":[{"fold":["a","b"],"as":["s","y"]}],"mark":{"type":"line","clip":true,"strokeWidth":1.8},
      "encoding":{
       "x":{"field":"x","type":"quantitative","scale":{"domain":[0,31],"nice":false},"axis":{"values":[0,5,10,15,20,25,30],"labelFontSize":16,"labelPadding":14,"title":"Fiber distance (km)","titleFontSize":16.5}},
       "y":{"field":"y","type":"quantitative","scale":{"domain":[0,0.2],"nice":false},"axis":{"values":[0,0.1,0.2],"labelFontSize":16,"title":"σ ᵩ (rad)","titleFontSize":17.5,"titleX":-48}},
       "color":{"field":"s","type":"nominal","title":null,"scale":{"domain":["a","b"],"range":["#D95319","#7E2F8E"]},
        "legend":{"orient":"none","legendX":8,"legendY":6,"symbolSize":1369,"symbolStrokeWidth":1.8,"labelFontSize":15,"clipHeight":21,"padding":4,"labelExpr":"datum.label=='a'?'LASER1 21ms':'LASER2 21ms'"}}
      }},
     {"data":{"values":[{}]},"mark":{"type":"text","font":"Liberation Serif","fontWeight":"bold","fontSize":25,"color":"#000000","align":"left","baseline":"middle","dx":-87,"dy":4},
      "encoding":{"x":{"datum":0,"type":"quantitative"},"y":{"datum":0.2,"type":"quantitative"},"text":{"value":"(e)"}}}
    ]}
  ]}
]
}
